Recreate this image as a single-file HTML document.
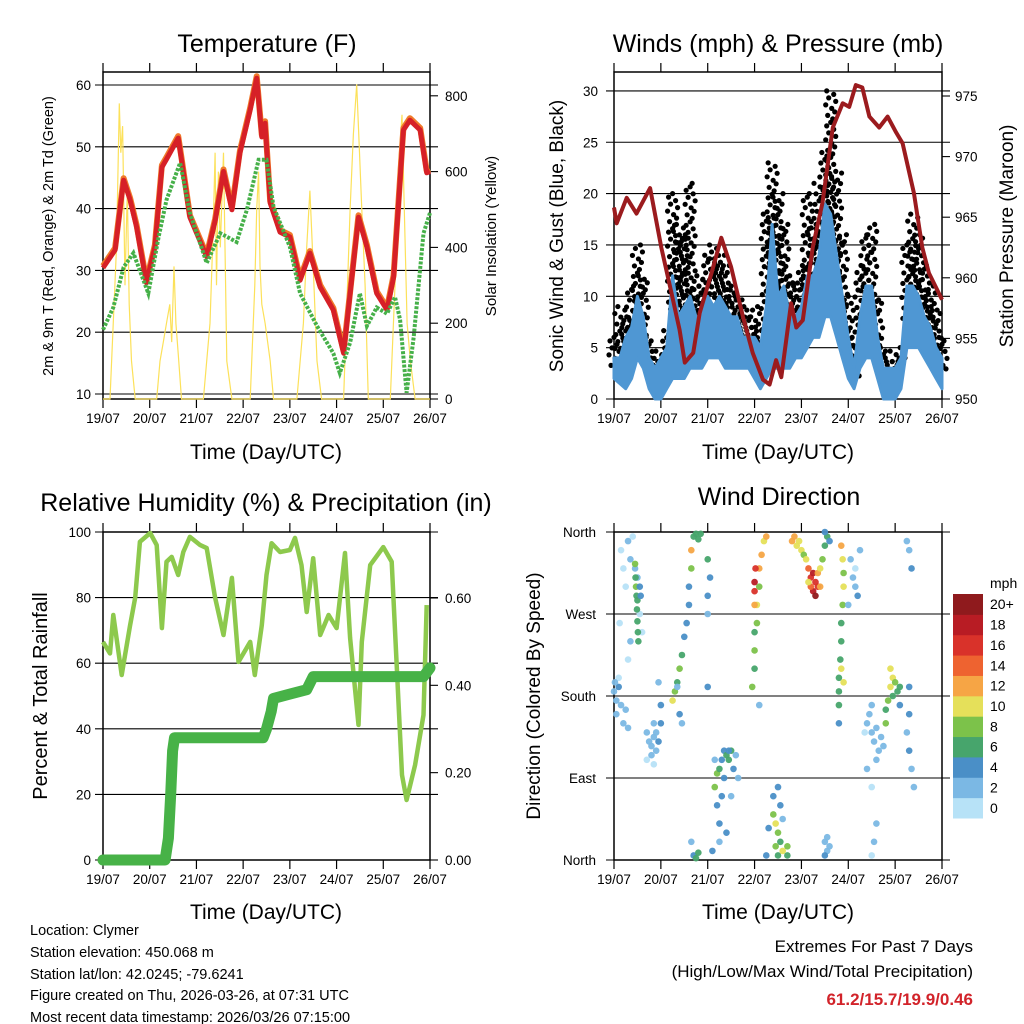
<!DOCTYPE html>
<html><head><meta charset="utf-8"><style>
html,body{margin:0;padding:0;background:#fff;}
svg{display:block;font-family:"Liberation Sans",sans-serif;}
</style></head><body>
<svg id="root" width="1024" height="1024" viewBox="0 0 1024 1024">
<rect x="0" y="0" width="1024" height="1024" fill="#fff"/>
<g id="static" fill="#000">
<text x="267" y="52" font-size="25" text-anchor="middle">Temperature (F)</text>
<text x="778" y="52" font-size="25" text-anchor="middle">Winds (mph) &amp; Pressure (mb)</text>
<text x="266" y="511" font-size="25" text-anchor="middle">Relative Humidity (%) &amp; Precipitation (in)</text>
<text x="779" y="505" font-size="25" text-anchor="middle">Wind Direction</text>
<text x="266" y="459" font-size="21" text-anchor="middle">Time (Day/UTC)</text>
<text x="778" y="459" font-size="21" text-anchor="middle">Time (Day/UTC)</text>
<text x="266" y="919" font-size="21" text-anchor="middle">Time (Day/UTC)</text>
<text x="778" y="919" font-size="21" text-anchor="middle">Time (Day/UTC)</text>
<text transform="translate(53,236) rotate(-90)" font-size="14.5" text-anchor="middle">2m &amp; 9m T (Red, Orange) &amp; 2m Td (Green)</text>
<text transform="translate(496,236) rotate(-90)" font-size="15" text-anchor="middle">Solar Insolation (Yellow)</text>
<text transform="translate(563,236) rotate(-90)" font-size="19" text-anchor="middle">Sonic Wind &amp; Gust (Blue, Black)</text>
<text transform="translate(1013,236) rotate(-90)" font-size="19" text-anchor="middle">Station Pressure (Maroon)</text>
<text transform="translate(47,696) rotate(-90)" font-size="20" text-anchor="middle">Percent &amp; Total Rainfall</text>
<text transform="translate(540,696) rotate(-90)" font-size="19" text-anchor="middle">Direction (Colored By Speed)</text>
<text x="30" y="935" font-size="14.5">Location: Clymer</text>
<text x="30" y="957" font-size="14.5">Station elevation: 450.068 m</text>
<text x="30" y="979" font-size="14.5">Station lat/lon: 42.0245; -79.6241</text>
<text x="30" y="1000" font-size="14.5">Figure created on Thu, 2026-03-26, at 07:31 UTC</text>
<text x="30" y="1022" font-size="14.5">Most recent data timestamp: 2026/03/26 07:15:00</text>
<text x="973" y="952" font-size="17" text-anchor="end">Extremes For Past 7 Days</text>
<text x="973" y="977" font-size="17" text-anchor="end">(High/Low/Max Wind/Total Precipitation)</text>
<text x="973" y="1005" font-size="17" font-weight="bold" fill="#d2232a" text-anchor="end">61.2/15.7/19.9/0.46</text>
<text x="990" y="588" font-size="14">mph</text>
</g>
</svg>
<script>
// ---------- data ----------
const dayLabels = ["19/07","20/07","21/07","22/07","23/07","24/07","25/07","26/07"];
const tempTimes = [0,0.26,0.44,0.58,0.72,0.93,1.11,1.26,1.36,1.61,1.68,1.86,2.22,2.40,2.58,2.76,2.93,3.15,3.29,3.40,3.47,3.58,3.79,4.0,4.22,4.43,4.65,4.93,5.15,5.47,5.65,5.86,6.08,6.22,6.43,6.57,6.79,6.93,7.0];
const tempValues = [30.4,33.3,44.6,41.4,37,28,33.8,46.7,48,51.4,47.9,38.6,32.2,38,46,39.8,49,56,61.1,51.6,53.8,40.9,36.2,35.4,28.4,32.8,27.3,23.6,16.6,38.6,33.8,26.3,23.6,28.9,52.7,54.3,52.7,45.8,46];
const dewTimes = [0,0.22,0.44,0.65,0.97,1.19,1.36,1.65,1.86,2.22,2.51,2.86,3.08,3.33,3.50,3.65,4.0,4.22,4.58,4.93,5.07,5.29,5.5,5.65,5.86,6.08,6.25,6.36,6.5,6.65,6.86,7.0];
const dewValues = [20.4,24,30.5,32.8,26.3,35.4,41.4,47.4,39.3,31.2,36,34.6,39.8,47.9,47.9,40.3,33.8,26.3,21,16.6,13.4,18.3,26.3,21,24,23,25.7,22,10.2,19.2,36,39.3];
const solarTimes = [0,0.15,0.29,0.35,0.38,0.42,0.47,0.52,0.56,0.61,0.69,1.15,1.22,1.29,1.36,1.43,1.47,1.52,1.56,1.61,1.68,2.15,2.29,2.36,2.40,2.43,2.47,2.51,2.58,2.65,2.76,3.15,3.25,3.29,3.33,3.36,3.40,3.47,3.58,3.65,4.15,4.29,4.36,4.43,4.50,4.58,4.68,5.15,5.29,5.36,5.43,5.49,5.54,5.61,5.68,6.15,6.25,6.32,6.40,6.45,6.51,6.58,6.68,7.0];
const solarValues = [0,0,400,780,650,720,300,550,250,100,0,0,100,150,200,250,150,350,200,120,0,0,200,450,650,300,600,400,650,100,0,0,300,500,600,350,250,200,100,0,0,200,400,550,350,100,0,0,500,700,830,650,500,300,0,0,300,600,750,500,200,100,0,0];
const windTimes = [0,0.125,0.25,0.375,0.5,0.625,0.75,0.875,1.0,1.125,1.25,1.375,1.5,1.625,1.75,1.875,2.0,2.125,2.25,2.375,2.5,2.625,2.75,2.875,3.0,3.125,3.25,3.375,3.5,3.625,3.75,3.875,4.0,4.125,4.25,4.375,4.5,4.625,4.75,4.875,5.0,5.125,5.25,5.375,5.5,5.625,5.75,5.875,6.0,6.125,6.25,6.375,6.5,6.625,6.75,6.875,7.0];
const windHigh = [4,4,6,7,10,8,4,3,4,5,12,8,9,10,8,8,10,9,10,9,8,8,6,6,6,5,9,17,10,11,8,8,9,12,12,14,19,18,14,10,6,3,8,11,11,6,3,3,3,4,11,11,10,8,7,5,4];
const windLow = [2,1.5,1,2,4,3,1,0,0,1,2,2,2,3,3,3,4,4,4,3,3,3,3,3,2,1,2,3,3,3,3,4,4,5,6,6,8,8,6,4,2,1,3,4,4,2,0,0,0,1,5,5,5,4,3,2,1];
const gustValues = [6,9,8,11,15,12,6,4,5,7,20,17,16,21,11,12,14,15,14,13,11,10,9,8,9,7,18,23,20,17,12,11,13,20,17,21,24,30,22,16,10,6,13,16,17,10,5,4,5,4,15,18,16,13,11,9,6];
const pressTimes = [0,0.057,0.27,0.48,0.77,1.01,1.23,1.40,1.51,1.69,1.83,2.08,2.29,2.50,2.75,2.96,3.18,3.32,3.46,3.57,3.78,3.89,4.03,4.24,4.45,4.67,4.88,5.02,5.16,5.30,5.45,5.66,5.84,6.02,6.16,6.40,6.58,6.72,7.0];
const pressValues = [965.8,964.5,966.6,965.3,967.4,962.5,958.7,955.7,953.0,953.8,957.1,960.4,963.3,960.9,956.8,953.8,951.6,951.2,953.2,951.8,957.9,955.9,956.5,962.5,966.2,972.4,974.4,974.1,975.9,975.7,973.3,972.4,973.3,972.0,971.1,967.0,962.5,960.4,958.2];
const rhTimes = [0,0.15,0.22,0.40,0.58,0.69,0.79,1.01,1.15,1.26,1.36,1.47,1.61,1.72,1.86,2.08,2.22,2.40,2.58,2.76,2.90,3.15,3.25,3.40,3.50,3.61,3.79,4.0,4.11,4.25,4.36,4.50,4.65,4.83,5.0,5.18,5.29,5.47,5.54,5.72,6.0,6.18,6.40,6.50,6.68,6.86,6.93];
const rhValues = [66.5,63,74.7,56.4,71.6,80,97,99.7,96,70.7,90.9,92.4,86.9,93.9,98.5,96,95.1,80,68.6,86,60.4,66.5,56.4,71.6,86.9,96.6,93.9,94.5,98.2,89.9,75.6,92,68.6,74.7,70.7,93.6,67.7,41.2,66.5,89.9,95.4,90.9,25.9,18.3,29,44.2,77.7];
const rainTimes = [0,1.33,1.40,1.45,1.49,1.53,3.43,3.50,3.60,3.65,4.0,4.36,4.50,6.86,7.0];
const rainValues = [0,0,0.05,0.15,0.25,0.28,0.28,0.30,0.34,0.37,0.38,0.39,0.42,0.42,0.44];
const dirTimes = [0.0,0.05,0.05,0.1,0.15,0.2,0.25,0.1,0.02,0.3,0.15,0.2,0.25,0.12,0.3,0.35,0.4,0.45,0.5,0.55,0.6,0.35,0.3,0.45,0.46,0.47,0.48,0.49,0.50,0.51,0.52,0.5,0.55,0.57,0.75,0.8,0.85,0.8,0.9,0.95,0.9,0.7,0.85,1.0,1.0,0.95,0.7,0.85,1.25,1.3,1.35,1.4,1.45,1.5,1.55,1.6,1.6,1.65,1.65,1.7,1.75,1.8,1.85,1.7,1.75,1.8,1.65,1.4,1.45,1.35,2.0,2.0,2.0,2.05,2.0,2.15,2.2,2.25,2.3,2.35,2.4,2.45,2.5,2.55,2.2,2.25,2.3,2.35,2.5,2.6,2.65,2.15,2.25,2.1,2.4,2.45,2.95,3.0,3.0,3.05,3.05,3.1,3.1,3.15,3.2,3.25,3.0,3.1,3.0,3.0,3.02,3.0,3.4,3.45,3.5,3.55,3.45,3.5,3.6,3.7,3.7,3.55,3.4,3.3,3.25,3.5,3.6,3.8,3.85,3.9,3.95,4.0,4.05,4.1,4.15,4.2,4.25,4.3,4.35,4.25,4.3,4.4,4.2,4.15,4.35,4.4,4.45,4.5,4.55,4.5,4.6,4.5,4.55,4.5,4.6,4.55,4.85,4.88,4.9,4.9,4.88,4.85,4.85,4.83,4.8,4.8,4.8,4.85,4.9,4.8,5.05,5.1,5.15,5.2,5.15,5.25,5.0,5.4,5.5,5.55,5.6,5.65,5.45,5.5,5.7,5.6,5.75,5.35,5.4,5.5,5.55,5.5,5.6,5.8,5.85,5.9,5.95,5.9,6.0,6.05,5.95,6.1,6.1,5.8,6.25,6.3,6.35,6.4,6.3,6.25,6.3,6.35,6.3];
const dirValues = [185,175,160,190,170,150,165,200,195,145,340,320,300,260,350,330,355,320,310,270,250,240,220,325,310,300,290,275,262,250,240,285,300,290,130,125,135,115,120,130,140,140,150,170,150,195,110,105,175,185,195,210,225,245,260,280,300,320,340,355,358,352,358,5,2,8,20,160,150,190,290,330,270,310,190,80,95,100,110,120,115,110,120,100,60,40,70,90,70,115,90,110,20,10,30,120,190,210,230,260,280,300,320,335,350,355,250,170,305,295,320,280,50,40,30,20,15,5,10,15,5,60,70,35,5,80,45,350,355,345,350,340,335,330,320,310,315,305,300,295,290,300,300,305,315,320,330,345,355,360,350,20,10,5,15,25,345,330,315,300,280,260,240,220,200,185,170,210,195,150,330,310,300,290,320,340,280,150,140,130,145,120,160,170,135,110,125,140,100,80,20,5,40,165,175,190,200,210,195,185,180,190,170,150,140,120,100,80,160,350,340,320,190];
const dirSpeeds = [3,3,2,4,3,2,3,1,2,2,1,1,1,1,2,2,1,2,2,1,1,2,1,8,7,8,7,7,7,6,6,6,5,5,2,2,2,2,3,4,3,2,2,4,5,3,1,1,10,8,7,8,6,5,4,4,5,8,12,6,6,7,6,5,6,7,3,5,3,3,4,6,3,5,5,8,8,6,4,4,6,7,6,4,5,5,4,4,3,2,2,3,2,4,4,5,8,7,8,9,10,9,12,12,11,12,7,3,18,16,16,13,8,10,9,7,8,6,10,8,7,5,4,5,5,4,3,13,12,11,10,10,8,10,15,17,18,16,17,19,21,13,14,11,12,10,8,7,6,5,4,3,3,4,2,2,12,11,9,10,8,7,7,7,6,7,7,10,10,5,2,2,3,4,1,3,2,2,2,2,3,3,2,3,3,2,2,1,2,1,2,1,2,7,9,10,11,10,8,7,7,6,5,8,3,4,3,2,4,3,3,4,5];
const speedColors = ["#b7e2f7","#7bb8e4","#4a8fc7","#47a56c","#7cc24a","#e5e05a","#f6a545","#ee6330","#d9322a","#b81c24","#8f1a1d"];
const speedLabels = ["0","2","4","6","8","10","12","14","16","18","20+"];
const tempTicks = [10,20,30,40,50,60];
const solarTicks = [0,200,400,600,800];
const windTicks = [0,5,10,15,20,25,30];
const pressTicks = [950,955,960,965,970,975];
const rhTicks = [0,20,40,60,80,100];
const rainTicks = [0,0.2,0.4,0.6];
const dirTicks = [0,90,180,270,360];
const dirTickLabels = ["North","East","South","West","North"];

// ---------- axes ----------
const L = {x0:103,x1:430}, R = {x0:614,x1:942};
const xT = d => L.x0 + d*(L.x1-L.x0)/7;
const yT = v => 394 - (v-10)*6.18;
const ySol = v => 399 - v*0.379;
const xW = d => R.x0 + d*(R.x1-R.x0)/7;
const yW = v => 399 - v*10.27;
const yP = p => 399 - (p-950)*12.12;
const yR = v => 860 - v*3.28;
const yRain = v => 860 - v*436.7;
const yD = d => 860 - d*328/360;

const NS = "http://www.w3.org/2000/svg";
const svg = document.getElementById('root');
function mk(tag, attrs, parent){ const e=document.createElementNS(NS,tag); for(const k in attrs) e.setAttribute(k,attrs[k]); (parent||svg).appendChild(e); return e; }
function pts(ts, vs, fx, fy){ return ts.map((t,i)=>fx(t).toFixed(1)+','+fy(vs[i]).toFixed(1)).join(' '); }

function frame(x0,x1,y0,y1,name){
  const g = mk('g',{});
  
  
  mk('rect',{x:x0,y:y0,width:x1-x0,height:y1-y0,fill:'none',stroke:'#000','stroke-width':1.5},g);
  for(let i=0;i<=7;i++){
    const x = x0 + i*(x1-x0)/7;
    mk('line',{x1:x,x2:x,y1:y0-9,y2:y0,stroke:'#000','stroke-width':1.2},g);
    mk('line',{x1:x,x2:x,y1:y1,y2:y1+9,stroke:'#000','stroke-width':1.2},g);
    const t = mk('text',{x:x,y:y1+24,'font-size':13.5,'text-anchor':'middle'},g);
    t.textContent = dayLabels[i];
    
    
  }
  return g;
}
function hgrid(g,y,x0,x1){ mk('line',{x1:x0-8,x2:x1+8,y1:y,y2:y,stroke:'#000','stroke-width':1.1},g); }
function label(g,x,y,txt,anchor){ const t=mk('text',{x:x,y:y+5,'font-size':13.5,'text-anchor':anchor},g); t.textContent=txt;
  
  
}
function rtick(g,x,y){ mk('line',{x1:x,x2:x+8,y1:y,y2:y,stroke:'#000','stroke-width':1.1},g); }

// ===== Temperature panel =====
const gT = frame(L.x0,L.x1,72,399,'temperature-panel');
tempTicks.forEach(v=>{ hgrid(gT,yT(v),L.x0,L.x1); label(gT,L.x0-12,yT(v),String(v),'end'); });
solarTicks.forEach(v=>{ rtick(gT,L.x1,ySol(v)); label(gT,L.x1+15,ySol(v),String(v),'start'); });
const sol = mk('polyline',{points:pts(solarTimes,solarValues,xT,ySol),fill:'none',stroke:'#fce15a','stroke-width':1.2});


const tOr = mk('polyline',{points:pts(tempTimes,tempValues,xT,v=>yT(v)-2),fill:'none',stroke:'#f07a2a','stroke-width':6,'stroke-linejoin':'round'});


const tRed = mk('polyline',{points:pts(tempTimes,tempValues,xT,yT),fill:'none',stroke:'#d62027','stroke-width':5,'stroke-linejoin':'round'});


const dew = mk('polyline',{points:pts(dewTimes,dewValues,xT,yT),fill:'none',stroke:'#46b049','stroke-width':4,'stroke-dasharray':'3 1.5'});



// ===== Winds panel =====
const gW = frame(R.x0,R.x1,72,399,'winds-panel');
windTicks.forEach(v=>{ hgrid(gW,yW(v),R.x0,R.x1); label(gW,R.x0-16,yW(v),String(v),'end'); });
pressTicks.forEach(v=>{ rtick(gW,R.x1,yP(v)); label(gW,R.x1+13,yP(v),String(v),'start'); });
const gG = mk('g',{fill:'#000'});


const jit = [0,-4,3,-2,5,-5,1,4,-3,2];
windTimes.forEach((t,i)=>{
  const top=yW(gustValues[i]), bot=yW(windHigh[i]*0.7);
  for(let y=top, k=0; y<=bot; y+=3.5, k++){
    const c = mk('circle',{cx:xW(t)+jit[(k+i*3)%jit.length],cy:y,r:2.6},gG);
    
    
  }
});
const band = windTimes.map((t,i)=>xW(t).toFixed(1)+','+yW(windHigh[i]).toFixed(1)).concat(
  windTimes.slice().reverse().map((t,j)=>{const i=windTimes.length-1-j; return xW(t).toFixed(1)+','+yW(windLow[i]).toFixed(1);})).join(' ');
const windBand = mk('polygon',{points:band,fill:'#4f97d3',stroke:'#4f97d3','stroke-width':3,'stroke-linejoin':'round'});


const pr = mk('polyline',{points:pts(pressTimes,pressValues,xW,yP),fill:'none',stroke:'#9b1b1e','stroke-width':4,'stroke-linejoin':'round'});



// ===== RH panel =====
const gR = frame(L.x0,L.x1,532,860,'humidity-panel');
rhTicks.forEach(v=>{ hgrid(gR,yR(v),L.x0,L.x1); label(gR,L.x0-12,yR(v),String(v),'end'); });
rainTicks.forEach(v=>{ rtick(gR,L.x1,yRain(v)); label(gR,L.x1+15,yRain(v),v.toFixed(2),'start'); });
const rh = mk('polyline',{points:pts(rhTimes,rhValues,xT,yR),fill:'none',stroke:'#8dc94d','stroke-width':4.5,'stroke-linejoin':'round'});


const rain = mk('polyline',{points:pts(rainTimes,rainValues,xT,yRain),fill:'none',stroke:'#47b247','stroke-width':11,'stroke-linejoin':'round','stroke-linecap':'round'});



// ===== Wind Direction panel =====
const gD = frame(R.x0,R.x1,532,860,'wind-direction-panel');
dirTicks.forEach((v,i)=>{ hgrid(gD,yD(v),R.x0,R.x1); label(gD,R.x0-18,yD(v),dirTickLabels[i],'end'); });
const gDp = mk('g',{});


dirTimes.forEach((t,i)=>{
  const b = Math.min(10, Math.floor(dirSpeeds[i]/2));
  const c = mk('circle',{cx:xW(t),cy:yD(dirValues[i]),r:3.3,fill:speedColors[b],'fill-opacity':0.95},gDp);
  
  
});
// colorbar
const gC = mk('g',{});


const cbTop=594, cbH=224/11;
speedColors.forEach((col,i)=>{
  const y = cbTop + (10-i)*cbH;
  const r = mk('rect',{x:953,y:y,width:30,height:cbH+0.5,fill:col},gC);
  
  
  const t = mk('text',{x:990,y:y+cbH/2+5,'font-size':14},gC);
  t.textContent = speedLabels[i];
  
  
});
</script>
</body></html>
